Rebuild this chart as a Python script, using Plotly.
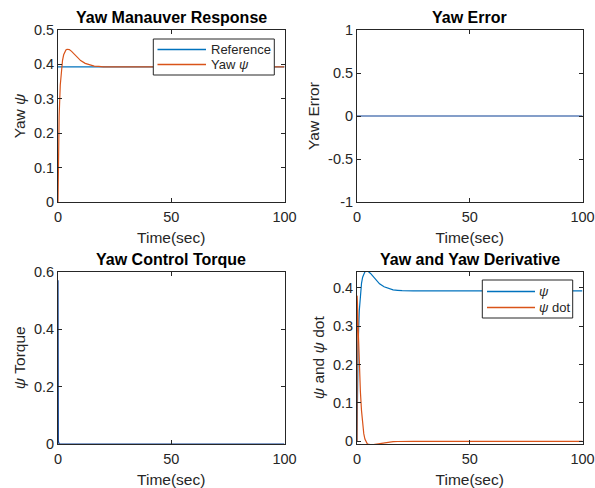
import plotly.graph_objects as go

# ---- data ----
t = [0, 0.05, 0.2, 0.5, 1, 1.5, 2, 2.5, 3, 3.5, 4, 4.5, 5, 6, 7, 8, 9, 10,
     12, 14, 16, 18, 20, 25, 30, 40, 50, 60, 70, 80, 90, 100]
psi = [0, 0.03, 0.13, 0.25, 0.34, 0.385, 0.412, 0.428, 0.437, 0.442, 0.444,
       0.444, 0.443, 0.438, 0.431, 0.424, 0.417, 0.411, 0.403, 0.398, 0.395,
       0.394, 0.393, 0.3927, 0.3927, 0.3927, 0.3927, 0.3927, 0.3927, 0.3927,
       0.3927, 0.3927]
psi_dot = [0, 0.38, 0.36, 0.30, 0.20, 0.13, 0.08, 0.045, 0.02, 0.006, -0.002,
           -0.006, -0.008, -0.009, -0.009, -0.008, -0.007, -0.005, -0.003,
           -0.002, -0.001, -0.0005, 0, 0, 0, 0, 0, 0, 0, 0, 0, 0]
ref_t = [0, 100]
reference = [0.3927, 0.3927]
err_t = [0, 100]
yaw_error = [0, 0]
torque_t = [0, 0.15, 0.5, 1, 5, 20, 50, 100]
torque = [0.57, 0.01, 0.0, 0.0, 0.0, 0.0, 0.0, 0.0]

titles = ["Yaw Manauver Response", "Yaw Error", "Yaw Control Torque", "Yaw and Yaw Derivative"]
ylabels = ["Yaw <i>ψ</i>", "Yaw Error", "<i>ψ</i> Torque", "<i>ψ</i> and <i>ψ</i> dot"]
xlabel = "Time(sec)"
legend1_names = ["Reference", "Yaw <i>ψ</i>"]
legend2_names = ["<i>ψ</i>", "<i>ψ</i> dot"]

BLUE = "#0072BD"
ORANGE = "#D95319"
DARKBLUE = "#0B3F94"
INK = "#262626"
FONT = "Liberation Sans, Arial, Helvetica, sans-serif"
W, H = 595, 488

fig = go.Figure()
fig.add_trace(go.Scatter(x=ref_t, y=reference, mode="lines", name=legend1_names[0],
                         line=dict(color=BLUE, width=1.2), xaxis="x", yaxis="y"))
fig.add_trace(go.Scatter(x=t, y=psi, mode="lines", name=legend1_names[1],
                         line=dict(color=ORANGE, width=1.2), xaxis="x", yaxis="y"))
fig.add_trace(go.Scatter(x=err_t, y=yaw_error, mode="lines",
                         line=dict(color=DARKBLUE, width=1.2), xaxis="x2", yaxis="y2"))
fig.add_trace(go.Scatter(x=torque_t, y=torque, mode="lines",
                         line=dict(color=DARKBLUE, width=1.2), xaxis="x3", yaxis="y3"))
fig.add_trace(go.Scatter(x=t, y=psi, mode="lines", name=legend2_names[0],
                         line=dict(color=BLUE, width=1.2), xaxis="x4", yaxis="y4"))
fig.add_trace(go.Scatter(x=t, y=psi_dot, mode="lines", name=legend2_names[1],
                         line=dict(color=ORANGE, width=1.2), xaxis="x4", yaxis="y4"))

xl = [58 / W, 284.5 / W]
xr = [357 / W, 582.5 / W]
yt = [1 - 202 / H, 1 - 30 / H]
yb = [1 - 444 / H, 1 - 271.5 / H]

common = dict(showgrid=False, zeroline=False, showline=True, linecolor=INK, linewidth=1,
              mirror="ticks", ticks="inside", ticklen=4, tickcolor=INK, automargin=False,
              tickfont=dict(family=FONT, size=14.5, color=INK))

def xax(dom, anchor):
    return dict(domain=dom, anchor=anchor, range=[0, 100], tickvals=[0, 50, 100],
                ticklabelstandoff=2,
                title=dict(text=xlabel, font=dict(family=FONT, size=15.5, color=INK), standoff=7),
                **common)

def yax(dom, anchor, rng, tv, label, tt):
    return dict(domain=dom, anchor=anchor, range=rng, tickvals=tv, ticktext=tt,
                title=dict(text=label, font=dict(family=FONT, size=15.5, color=INK), standoff=4),
                **common)

fig.update_layout(
    width=W, height=H, margin=dict(l=0, r=0, t=0, b=0),
    paper_bgcolor="white", plot_bgcolor="white",
    font=dict(family=FONT, color=INK),
    showlegend=False,
    xaxis=xax(xl, "y"),
    yaxis=yax(yt, "x", [0, 0.5], [0, 0.1, 0.2, 0.3, 0.4, 0.5], ylabels[0],
              ["0", "0.1", "0.2", "0.3", "0.4", "0.5"]),
    xaxis2=xax(xr, "y2"),
    yaxis2=yax(yt, "x2", [-1, 1], [-1, -0.5, 0, 0.5, 1], ylabels[1],
               ["-1", "-0.5", "0", "0.5", "1"]),
    xaxis3=xax(xl, "y3"),
    yaxis3=yax(yb, "x3", [0, 0.6], [0, 0.2, 0.4, 0.6], ylabels[2], ["0", "0.2", "0.4", "0.6"]),
    xaxis4=xax(xr, "y4"),
    yaxis4=yax(yb, "x4", [-0.007, 0.443], [0, 0.1, 0.2, 0.3, 0.4], ylabels[3],
               ["0", "0.1", "0.2", "0.3", "0.4"]),
)

# subplot titles
centers = [((xl[0] + xl[1]) / 2, yt[1]), ((xr[0] + xr[1]) / 2, yt[1]),
           ((xl[0] + xl[1]) / 2, yb[1]), ((xr[0] + xr[1]) / 2, yb[1])]
for (cx, cy), ttl in zip(centers, titles):
    fig.add_annotation(x=cx, y=cy, xref="paper", yref="paper", xanchor="center", yanchor="bottom",
                       yshift=2, showarrow=False, text="<b>" + ttl + "</b>",
                       font=dict(family=FONT, size=16, color="black"))

# MATLAB-style legend boxes (pixel layout -> paper coords)
def px(x):
    return x / W

def py(y):
    return 1 - y / H

def add_legend(box, line_x, text_x, rows, names, colors):
    x0, y0, x1, y1 = box
    fig.add_shape(type="rect", xref="paper", yref="paper", x0=px(x0), x1=px(x1),
                  y0=py(y1), y1=py(y0), line=dict(color=INK, width=1), fillcolor="white",
                  layer="above")
    for ry, name, col in zip(rows, names, colors):
        fig.add_shape(type="line", xref="paper", yref="paper", x0=px(line_x[0]), x1=px(line_x[1]),
                      y0=py(ry), y1=py(ry), line=dict(color=col, width=1.5), layer="above")
        fig.add_annotation(x=px(text_x), y=py(ry), xref="paper", yref="paper", xanchor="left",
                           yanchor="middle", showarrow=False, text=name,
                           font=dict(family=FONT, size=13, color=INK))

add_legend((153.3, 39, 274.3, 75), (157.5, 206), 208.5, (49.5, 64.5), legend1_names, [BLUE, ORANGE])
add_legend((482.3, 280, 572.7, 318), (487, 535), 537, (291.5, 307.5), legend2_names, [BLUE, ORANGE])

fig.write_html("out.html")
